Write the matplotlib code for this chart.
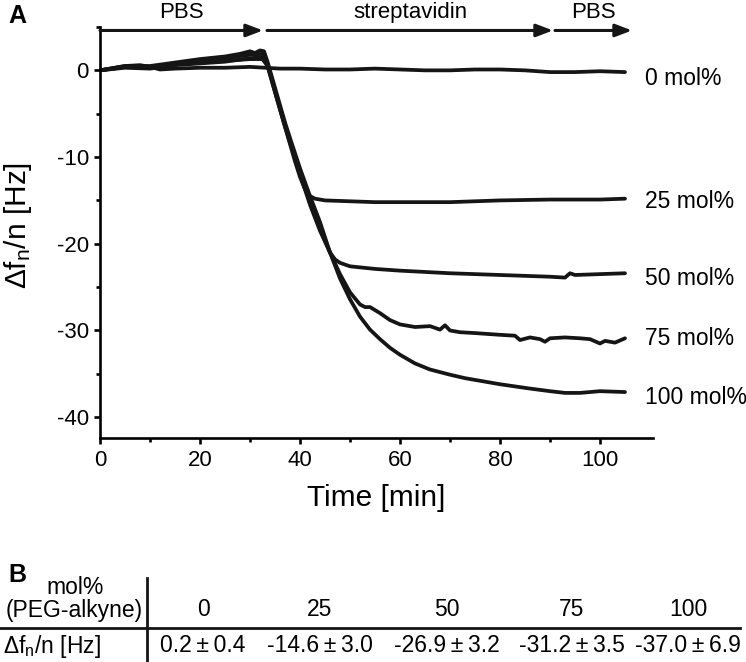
import matplotlib
matplotlib.use("Agg")
import matplotlib.pyplot as plt
from matplotlib.lines import Line2D
from matplotlib.ticker import FixedLocator

plt.rcParams['font.family'] = ['Liberation Sans', 'DejaVu Sans']
plt.rcParams['mathtext.fontset'] = 'custom'
plt.rcParams['mathtext.rm'] = 'Liberation Sans'
plt.rcParams['mathtext.it'] = 'Liberation Sans:italic'
plt.rcParams['axes.unicode_minus'] = False

# ---------------- data ----------------
t_0 = [0, 2, 5, 8, 10, 12, 15, 20, 25, 30, 33, 36, 40, 45, 50, 55, 60, 65, 70, 75, 80, 85, 90, 95, 100, 105]
y_0 = [0, 0.2, 0.5, 0.6, 0.4, 0.1, 0.2, 0.3, 0.3, 0.4, 0.3, 0.2, 0.2, 0.1, 0.1, 0.2, 0.1, 0.0, 0.0, 0.1, 0.1, 0.0, -0.2, -0.2, -0.1, -0.2]

t_25 = [0, 5, 10, 15, 20, 25, 30, 32.5, 33.5, 35, 36, 37, 38, 39, 40, 41, 42, 43, 45, 50, 55, 60, 70, 80, 90, 100, 105]
y_25 = [0, 0.4, 0.3, 0.7, 0.9, 1.1, 1.3, 1.3, 0.5, -2.5, -4.5, -6.5, -8.5, -10.5, -12.3, -13.7, -14.5, -14.8, -15.0, -15.1, -15.2, -15.2, -15.2, -15.0, -14.9, -14.9, -14.8]

t_50 = [0, 5, 10, 15, 20, 25, 30, 32.5, 33.5, 35, 36, 37, 38, 40, 42, 44, 46, 47, 48, 50, 55, 60, 70, 80, 90, 93, 94, 95, 100, 105]
y_50 = [0, 0.3, 0.2, 0.6, 0.8, 1.0, 1.4, 1.5, 0.6, -2.5, -4.5, -6.5, -8.3, -12.0, -15.5, -18.5, -21.0, -21.8, -22.2, -22.6, -22.9, -23.1, -23.4, -23.6, -23.8, -23.9, -23.4, -23.6, -23.5, -23.4]

t_75 = [0, 5, 10, 15, 20, 25, 30, 32.5, 33.5, 35, 36, 37, 38, 40, 42, 44, 46, 48, 50, 52, 53, 54, 56, 58, 60, 63, 66, 68, 69, 70, 72, 75, 80, 83, 84, 86, 88, 89, 90, 93, 96, 98, 100, 101, 103, 105]
y_75 = [0, 0.4, 0.4, 0.8, 1.2, 1.4, 1.8, 1.9, 0.8, -2.3, -4.3, -6.3, -8.2, -11.8, -15.2, -18.3, -21.0, -23.5, -25.6, -27.0, -27.3, -27.3, -28.0, -28.8, -29.3, -29.6, -29.5, -29.9, -29.4, -30.0, -30.2, -30.3, -30.5, -30.6, -31.1, -30.8, -31.0, -31.3, -30.9, -30.8, -30.9, -31.0, -31.5, -31.2, -31.4, -30.9]

t_100 = [0, 5, 10, 15, 20, 25, 28, 30, 31, 32, 32.8, 33.5, 35, 36, 37, 38, 40, 42, 44, 46, 48, 50, 52, 54, 56, 58, 60, 63, 66, 70, 73, 76, 80, 86, 90, 93, 96, 100, 105]
y_100 = [0, 0.5, 0.5, 0.9, 1.3, 1.6, 1.9, 2.2, 2.0, 2.3, 2.2, 1.0, -2.0, -4.0, -6.0, -7.8, -11.3, -14.5, -17.5, -21.0, -24.0, -26.4, -28.4, -29.9, -31.0, -32.0, -32.8, -33.8, -34.5, -35.1, -35.5, -35.8, -36.2, -36.7, -37.0, -37.2, -37.2, -37.0, -37.1]

series_labels = ["0 mol%", "25 mol%", "50 mol%", "75 mol%", "100 mol%"]

phase_names = ["PBS", "streptavidin", "PBS"]
phase_start = [0, 33.4, 91.0]
phase_end = [32.6, 90.6, 106.4]

tab_mol = ["0", "25", "50", "75", "100"]
tab_mean = ["0.2", "-14.6", "-26.9", "-31.2", "-37.0"]
tab_sd = ["0.4", "3.0", "3.2", "3.5", "6.9"]

# ---------------- figure ----------------
W, H = 746, 662
fig = plt.figure(figsize=(W / 100, H / 100), dpi=100)
ax = fig.add_axes([100 / W, 1 - 438 / H, 553 / W, 411 / H])

series = [(t_0, y_0), (t_25, y_25), (t_50, y_50), (t_75, y_75), (t_100, y_100)]
label_offsets = [-0.7, -0.3, -0.6, 0.0, -0.6]
for (t, y), lab, off in zip(series, series_labels, label_offsets):
    ax.plot(t, y, color='#151515', lw=2.7, solid_joinstyle='round', solid_capstyle='round')
    ax.text(109, y[-1] + off, lab, fontsize=16.5, va='center', ha='left', clip_on=False)

ax.set_xlim(0, 110.6)
ax.set_ylim(-42.4, 5)

for sp in ['top', 'right']:
    ax.spines[sp].set_visible(False)
for sp in ['left', 'bottom']:
    ax.spines[sp].set_linewidth(1.9)

ax.xaxis.set_major_locator(FixedLocator([0, 20, 40, 60, 80, 100]))
ax.xaxis.set_minor_locator(FixedLocator([10, 30, 50, 70, 90]))
ax.yaxis.set_major_locator(FixedLocator([-40, -30, -20, -10, 0]))
ax.yaxis.set_minor_locator(FixedLocator([-35, -25, -15, -5, 5]))
ax.tick_params(which='major', direction='out', length=4, width=1.9, labelsize=16, pad=4)
ax.tick_params(which='minor', direction='out', length=3, width=1.9)
ax.tick_params(axis='x', which='major', pad=5)

ax.set_xlabel("Time [min]", fontsize=21.5)
ax.xaxis.set_label_coords(0.5, -0.146)
ax.xaxis.label.set_va('center')
ax.set_ylabel(r"Δf$_\mathregular{n}$/n [Hz]", fontsize=21.5)
ax.yaxis.set_label_coords(-0.148, 0.516)
ax.yaxis.label.set_va('center')

# phase arrows
for name, s, e in zip(phase_names, phase_start, phase_end):
    ax.annotate("", xy=(e, 4.6), xytext=(s, 4.6), annotation_clip=False,
                arrowprops=dict(arrowstyle='-|>,head_length=1.0,head_width=0.38',
                                color='#151515', lw=2.2, shrinkA=0, shrinkB=0))
    ax.text((s + e) / 2, 6.7, name, fontsize=16, ha='center', va='center', clip_on=False)

fig.text(8 / W, 1 - 16 / H, "A", fontsize=18, fontweight='bold', ha='left', va='center')
fig.text(8 / W, 1 - 575 / H, "B", fontsize=18, fontweight='bold', ha='left', va='center')

# ---------------- table B ----------------
fig.text(75 / W, 1 - 587 / H, "mol%", fontsize=16.5, ha='center', va='center')
fig.text(74 / W, 1 - 610 / H, "(PEG-alkyne)", fontsize=16.5, ha='center', va='center')
fig.text(3 / W, 1 - 646 / H, r"Δf$_\mathregular{n}$/n [Hz]", fontsize=16.5, ha='left', va='center')

col_x = [203, 320, 447, 572, 688]
for cx, m, mu, sd in zip(col_x, tab_mol, tab_mean, tab_sd):
    fig.text(cx / W, 1 - 610 / H, m, fontsize=16.5, ha='center', va='center')
    fig.text(cx / W, 1 - 646 / H, f"{mu}\u2009±\u2009{sd}", fontsize=16.5, ha='center', va='center')

fig.add_artist(Line2D([0, 740 / W], [1 - 628 / H, 1 - 628 / H], color='#151515', lw=2.0))
fig.add_artist(Line2D([147 / W, 147 / W], [1 - 578 / H, 0], color='#151515', lw=2.0))

fig.savefig("out.png", dpi=100)
